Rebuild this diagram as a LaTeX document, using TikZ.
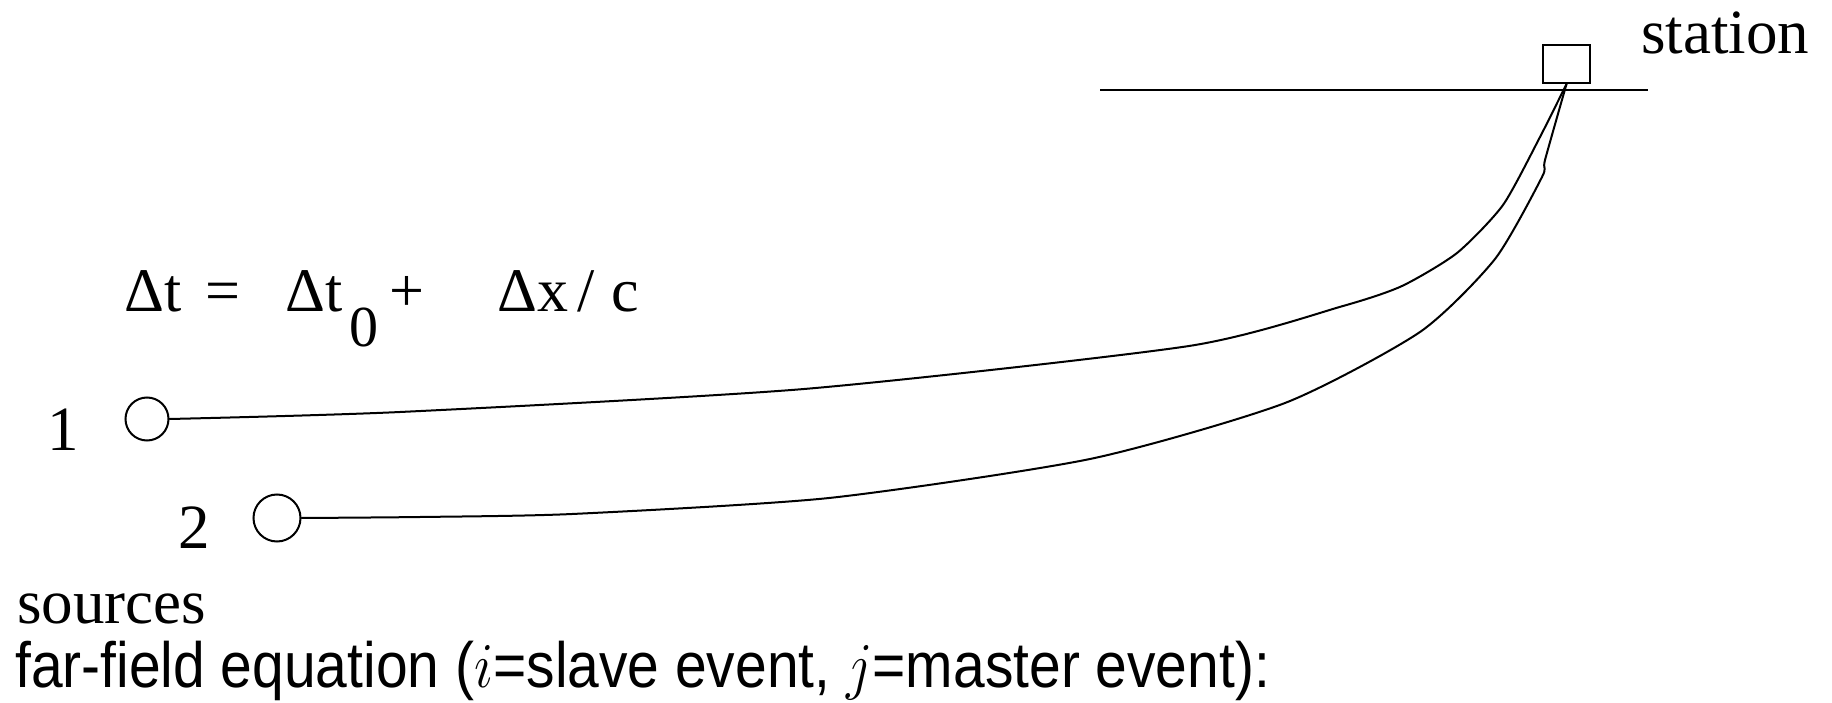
\RequirePackage{fix-cm}
\documentclass[tikz,border=0pt]{standalone}
\usepackage{fontspec}
\setmainfont{Liberation Serif}
\newfontfamily\sansfam{Liberation Sans}
\begin{document}
\begin{tikzpicture}[x=1pt,y=-1pt,
  serif/.style={font=\fontsize{63}{63}\selectfont, inner sep=0pt, anchor=base west},
  sanstxt/.style={font=\sansfam\fontsize{64}{64}\selectfont, inner sep=0pt, anchor=base west},
  src/.style={circle, draw, line width=2pt, inner sep=0pt},
  ray/.style={line width=2pt, line join=round, line cap=round},
  stationbox/.style={rectangle, draw, line width=2pt, inner sep=0pt, minimum width=47pt, minimum height=38pt}]
\useasboundingbox (0,0) rectangle (1832,703);
% ground surface
\coordinate (gl) at (1100,90);
\coordinate (gr) at (1648,90);
\draw[line width=2.8pt] (gl) -- (gr);
% station
\node[stationbox] (sta) at (1566.5,64) {};
\node[serif] (stlab) at (1641,54) {station};
% sources
\node[src, minimum size=43pt] (c1) at (147,419) {};
\node[src, minimum size=47pt] (c2) at (277,518) {};
\node[serif] (n1) at (47,450) {1};
\node[serif] (n2) at (178,548) {2};
\node[serif] (srclab) at (17,623) {sources};
% equation
\node[serif, font=\fontsize{62}{62}\selectfont] (eq) at (124,312) {\rlap{Δt}\hspace*{81pt}\rlap{=}\hspace*{80pt}\rlap{Δt}\hspace*{64pt}\rlap{\raisebox{-35pt}{\fontsize{58}{58}\selectfont 0}}\hspace*{40pt}\rlap{+}\hspace*{108pt}\rlap{Δx}\hspace*{80pt}\rlap{/}\hspace*{34pt}c};
% rays
\draw[ray] plot[smooth, tension=0.4] coordinates {(c1.east) (400,412) (804,389) (1189,346) (1343,306) (1402,286) (1457,253) (1503,205) (1540,137) (sta.south)};
\draw[ray] plot[smooth, tension=0.4] coordinates {(c2.east) (420,517) (572,514) (829,498) (1090,459) (1285,403) (1420,332) (1495,259) (1542,177) (1545,160) (sta.south)};
% bottom caption
\node[sanstxt] (cap) at (15,687) {\scalebox{0.89}[1]{far-field equation ($i$=slave event, $j$=master event):}};
\end{tikzpicture}
\end{document}
